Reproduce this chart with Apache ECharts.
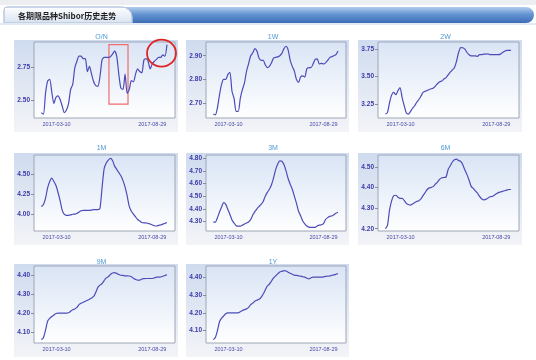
<!DOCTYPE html>
<html><head><meta charset="utf-8">
<script src="https://cdn.jsdelivr.net/npm/echarts@6/dist/echarts.min.js"></script>
<style>html,body{margin:0;padding:0;background:#fff}#c{width:536px;height:360px}</style>
</head><body><div id="c"></div>
<script>
// ---- data ----
const names = ['O/N','1W','2W','1M','3M','6M','9M','1Y'];
const xTickPos = [7.3, 53.0];
const xTickLabels = ['2017-03-10','2017-08-29'];
const ON = [2.40,2.387,2.55,2.645,2.66,2.56,2.47,2.52,2.53,2.50,
  2.45,2.40,2.42,2.47,2.58,2.62,2.75,2.80,2.84,2.84,
  2.82,2.82,2.72,2.76,2.70,2.64,2.61,2.605,2.68,2.81,
  2.83,2.83,2.83,2.835,2.855,2.88,2.84,2.70,2.59,2.58,
  2.70,2.55,2.58,2.65,2.64,2.70,2.74,2.72,2.71,2.81,
  2.82,2.80,2.74,2.78,2.80,2.815,2.83,2.83,2.85,2.84,2.93];
const W1 = [2.654,2.65,2.68,2.735,2.78,2.80,2.80,2.82,2.83,2.75,
  2.72,2.665,2.665,2.72,2.757,2.785,2.835,2.867,2.90,2.912,
  2.93,2.92,2.89,2.88,2.88,2.862,2.85,2.855,2.87,2.89,
  2.893,2.895,2.90,2.91,2.93,2.94,2.925,2.88,2.855,2.835,
  2.80,2.787,2.81,2.815,2.81,2.845,2.85,2.85,2.865,2.885,
  2.887,2.865,2.868,2.865,2.87,2.88,2.892,2.896,2.90,2.905,2.92];
const W2 = [3.157,3.17,3.26,3.33,3.355,3.335,3.37,3.40,3.31,3.235,
  3.17,3.157,3.18,3.21,3.233,3.265,3.29,3.32,3.355,3.365,
  3.372,3.382,3.388,3.395,3.415,3.437,3.452,3.46,3.477,3.49,
  3.515,3.54,3.56,3.58,3.64,3.72,3.765,3.763,3.75,3.72,
  3.70,3.69,3.69,3.69,3.685,3.70,3.70,3.705,3.705,3.708,
  3.70,3.70,3.70,3.70,3.70,3.705,3.72,3.732,3.74,3.74,3.74];
const M1 = [4.10,4.125,4.20,4.33,4.41,4.45,4.41,4.36,4.27,4.17,
  4.05,4.00,3.99,3.99,3.995,4.003,4.005,4.012,4.03,4.047,
  4.05,4.05,4.05,4.05,4.055,4.06,4.06,4.06,4.075,4.33,
  4.57,4.64,4.675,4.695,4.67,4.60,4.56,4.52,4.48,4.42,
  4.34,4.23,4.10,4.04,4.005,3.97,3.937,3.92,3.90,3.895,
  3.895,3.888,3.882,3.87,3.86,3.857,3.865,3.87,3.88,3.89,3.90];
const M3 = [4.295,4.295,4.33,4.375,4.415,4.448,4.435,4.395,4.355,4.312,
  4.287,4.266,4.262,4.262,4.27,4.279,4.287,4.295,4.315,4.35,
  4.378,4.40,4.418,4.435,4.458,4.50,4.53,4.555,4.59,4.645,
  4.71,4.755,4.78,4.776,4.75,4.70,4.64,4.595,4.555,4.50,
  4.445,4.38,4.345,4.305,4.28,4.263,4.255,4.253,4.253,4.253,
  4.263,4.27,4.273,4.283,4.315,4.33,4.34,4.343,4.352,4.365,4.373];
const M6 = [4.20,4.215,4.29,4.335,4.36,4.362,4.353,4.347,4.347,4.337,
  4.323,4.317,4.314,4.32,4.326,4.332,4.336,4.345,4.36,4.375,
  4.39,4.398,4.40,4.405,4.417,4.427,4.44,4.447,4.448,4.45,
  4.487,4.505,4.523,4.534,4.537,4.53,4.526,4.51,4.484,4.462,
  4.435,4.405,4.395,4.383,4.372,4.357,4.345,4.34,4.342,4.348,
  4.355,4.356,4.362,4.369,4.375,4.378,4.381,4.384,4.387,4.39,4.39];
const M9 = [4.06,4.07,4.11,4.157,4.172,4.182,4.19,4.198,4.20,4.20,
  4.20,4.20,4.20,4.202,4.21,4.218,4.222,4.23,4.245,4.252,
  4.257,4.263,4.268,4.273,4.28,4.288,4.31,4.336,4.348,4.356,
  4.372,4.386,4.393,4.404,4.412,4.414,4.41,4.404,4.40,4.399,
  4.397,4.397,4.396,4.392,4.384,4.378,4.374,4.374,4.38,4.382,
  4.383,4.383,4.383,4.383,4.386,4.39,4.39,4.391,4.395,4.399,4.402];
const Y1 = [4.05,4.062,4.10,4.15,4.17,4.182,4.195,4.20,4.20,4.20,
  4.20,4.20,4.20,4.206,4.213,4.218,4.222,4.23,4.246,4.254,
  4.265,4.271,4.276,4.287,4.305,4.328,4.35,4.361,4.378,4.395,
  4.407,4.418,4.428,4.432,4.436,4.434,4.427,4.421,4.416,4.41,
  4.41,4.407,4.405,4.402,4.40,4.394,4.39,4.396,4.40,4.40,
  4.40,4.40,4.40,4.401,4.404,4.405,4.406,4.41,4.412,4.415,4.42];
const seriesValues = [ON, W1, W2, M1, M3, M6, M9, Y1];
const yMin = [2.358, 2.637, 3.121, 3.795, 4.224, 4.189, 4.042, 4.031];
const yMax = [2.95, 2.958, 3.816, 4.738, 4.826, 4.557, 4.449, 4.462];
const yTicks = [
  [2.50, 2.75], [2.70, 2.80, 2.90], [3.25, 3.50, 3.75], [4.00, 4.25, 4.50],
  [4.30, 4.40, 4.50, 4.60, 4.70, 4.80], [4.20, 4.30, 4.40, 4.50],
  [4.10, 4.20, 4.30, 4.40], [4.10, 4.20, 4.30, 4.40]
];
// annotation on O/N (data coordinates)
const noteRect = [[32.3, 2.466], [41.4, 2.929]];
const noteEllipse = [57.4, 2.863];

// ---- layout ----
const colLeft = [34, 206, 378], colW = [141, 140, 141];
const rowTop = [42, 155, 266], rowH = [76, 76, 77];
const titleY = [37, 148, 262];
const X_MIN = -3.5, X_MAX = 63.84;

const chart = echarts.init(document.getElementById('c'), null, {renderer: 'canvas'});
const grids = [], xAxes = [], yAxes = [], series = [];
const graphics = [
  {type: 'rect', z: -20, shape: {x: 0, y: 0, width: 536, height: 5}, style: {fill: '#eceef2'}},
  {type: 'rect', z: -19, shape: {x: 110, y: 7, width: 424, height: 16, r: [0, 8, 8, 0]},
    style: {fill: new echarts.graphic.LinearGradient(0, 0, 0, 1, [
      {offset: 0, color: '#b3cdee'}, {offset: 0.45, color: '#6595d3'}, {offset: 1, color: '#3c6db5'}])}},
  {type: 'rect', z: -18, shape: {x: 4, y: 7, width: 128, height: 16, r: [3, 10, 0, 0]},
    style: {fill: new echarts.graphic.LinearGradient(0, 0, 0, 1, [
      {offset: 0, color: '#ffffff'}, {offset: 1, color: '#d7e2f1'}]), stroke: '#b8c8df', lineWidth: 1}},
  {type: 'rect', z: -18, shape: {x: 0, y: 23, width: 536, height: 2}, style: {fill: '#e3eaf4'}},
  {type: 'text', z: 10, style: {text: '各期限品种Shibor历史走势', x: 18, y: 15.5,
    font: 'bold 8px "Noto Sans CJK SC", sans-serif', fill: '#1e1e1e',
    textAlign: 'left', textVerticalAlign: 'middle', align: 'left', verticalAlign: 'middle'}}
];

names.forEach((name, k) => {
  const r = Math.floor(k / 3), c = k % 3;
  const L = colLeft[c], T = rowTop[r], W = colW[c], H = rowH[r];
  graphics.push({type: 'rect', z: -10,
    shape: {x: L - 20, y: T - 2, width: W + 23, height: H + 16},
    style: {fill: new echarts.graphic.LinearGradient(0, 0, 0, 1, [
      {offset: 0, color: '#cfdbef'}, {offset: 1, color: '#f3f4f7'}])}});
  graphics.push({type: 'text', z: 10, style: {text: name, x: L + W / 2 - 3, y: titleY[r],
    font: '7px "Liberation Sans", Arial, sans-serif', fill: '#4f9bd6',
    textAlign: 'center', textVerticalAlign: 'middle', align: 'center', verticalAlign: 'middle'}});
  grids.push({left: L, top: T, width: W, height: H, show: true,
    backgroundColor: new echarts.graphic.LinearGradient(0, 0, 0, 1, [
      {offset: 0, color: '#d9e4f5'}, {offset: 1, color: '#ffffff'}]),
    borderColor: '#9ea6b6', borderWidth: 1});
  xAxes.push({type: 'value', gridIndex: k, min: X_MIN, max: X_MAX,
    axisLine: {show: false, onZero: false}, axisTick: {show: false}, splitLine: {show: false},
    axisLabel: {customValues: xTickPos, margin: 3, fontSize: 5.5, color: '#4848a8',
      fontFamily: '"Liberation Sans", Arial, sans-serif',
      formatter: v => xTickLabels[xTickPos.indexOf(v)] || ''}});
  yAxes.push({type: 'value', gridIndex: k, min: yMin[k], max: yMax[k],
    axisLine: {show: false, onZero: false}, splitLine: {show: false},
    axisTick: {show: true, customValues: yTicks[k], length: 3, lineStyle: {color: '#8a8a9a'}},
    axisLabel: {customValues: yTicks[k], margin: 4, fontSize: 6.5, fontWeight: 'bold',
      color: '#3a3aaa', fontFamily: '"Liberation Sans", Arial, sans-serif',
      formatter: v => v.toFixed(2)}});
  const s = {type: 'line', xAxisIndex: k, yAxisIndex: k, showSymbol: false, smooth: 0.25,
    lineStyle: {color: '#4c4cb8', width: 1.2}, itemStyle: {color: '#4c4cb8'},
    data: seriesValues[k].map((v, i) => [i, v])};
  if (k === 0) {
    s.markArea = {silent: true, itemStyle: {color: 'rgba(0,0,0,0)', borderColor: '#ee6d6d', borderWidth: 1.2},
      data: [[{coord: noteRect[0]}, {coord: noteRect[1]}]]};
  }
  series.push(s);
});

chart.setOption({animation: false, grid: grids, xAxis: xAxes, yAxis: yAxes, series: series, graphic: graphics});
const p = chart.convertToPixel({gridIndex: 0}, noteEllipse);
graphics.push({type: 'ellipse', z: 20, shape: {cx: p[0], cy: p[1], rx: 14.5, ry: 13.5},
  style: {fill: 'none', stroke: '#e02424', lineWidth: 1.8}});
chart.setOption({graphic: graphics});
</script></body></html>
